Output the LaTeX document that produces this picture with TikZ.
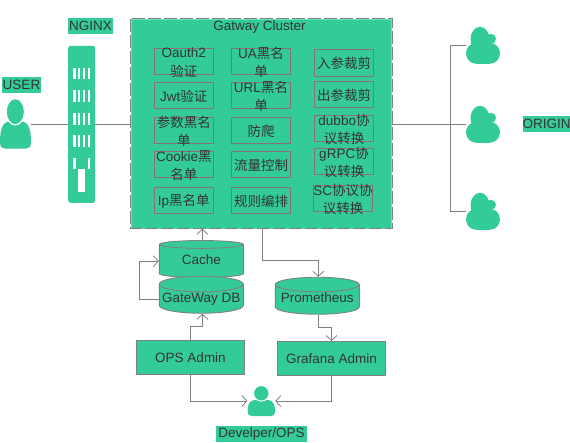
\documentclass[tikz,border=0pt]{standalone}
\usepackage{fontspec}
\setmainfont{Liberation Sans}
\newfontfamily\cjk{Noto Sans CJK SC}
\usetikzlibrary{arrows.meta,shapes.geometric}
\definecolor{gatGreen}{HTML}{33CC99}
\definecolor{gatPale}{HTML}{66E6B8}
\definecolor{gatLine}{HTML}{808080}
\definecolor{gatBox}{HTML}{8A6F80}
\definecolor{gatText}{HTML}{333333}
\tikzset{
	gatfont/.style={font=\fontsize{13.5}{18.5}\selectfont,text=gatText},
	feature/.style={draw=gatBox,line width=0.8pt,minimum width=59.5pt,minimum height=26.5pt,inner sep=0pt,
		label={[gatfont,align=center,inner sep=0pt,yshift=-1pt]center:{#1}}},
	admin/.style={draw=gatLine,fill=gatGreen,line width=0.9pt,gatfont,minimum width=108.5pt,minimum height=34pt,inner sep=0pt},
	store/.style={shape=cylinder,shape border rotate=90,shape aspect=0.2,draw=gatLine,fill=gatGreen,line width=0.9pt,gatfont,
		minimum width=84pt,minimum height=37pt,inner sep=0pt},
	tag/.style={fill=gatGreen,gatfont,inner sep=0pt,minimum height=16pt},
	link/.style={draw=gatLine,line width=0.8pt},
	arr/.style={link,->,>={Straight Barb[length=5pt,width=11pt]}},
	rack/.style={fill=gatGreen,rounded corners=2.5pt,minimum width=27pt,minimum height=157pt,inner sep=0pt,
		path picture={\begin{scope}[sharp corners,shift={(path picture bounding box.center)}]
			\foreach \y in {-56.6,-34,-11,11} {
				\foreach \x in {-8.4,-3.7,1,6} {
					\fill[white] (\x,\y) rectangle ++(2.2,11.4);
				}
			}
			\fill[white] (-8.4,34) rectangle ++(2.2,11);
			\fill[white] (6,34) rectangle ++(2.2,11);
			\fill[white] (-3.7,45) rectangle (3.6,67.4);
		\end{scope}}},
	usericon/.style={minimum width=31pt,minimum height=52pt,inner sep=0pt,
		path picture={\begin{scope}[shift={(path picture bounding box.center)}]
			\fill[gatGreen] (-15.5,18) .. controls (-15.5,5) and (-13,-1) .. (-8,-2.6) -- (8,-2.6) .. controls (13,-1) and (15.5,5) .. (15.5,18)
				.. controls (15.5,23) and (13,24.4) .. (10,24.4) -- (-10,24.4) .. controls (-13,24.4) and (-15.5,23) .. (-15.5,18) -- cycle;
			\draw[white,line width=1.2pt,fill=gatGreen] (-0.2,-12.6) ellipse (9.2 and 13.2);
		\end{scope}}},
	devicon/.style={minimum width=27.5pt,minimum height=33pt,inner sep=0pt,
		path picture={\begin{scope}[shift={(path picture bounding box.center)}]
			\fill[gatGreen] (-13.7,11) .. controls (-13.7,3) and (-12,0) .. (-7,-1) -- (7,-1) .. controls (12,0) and (13.7,3) .. (13.7,11)
				.. controls (13.7,14) and (12,15) .. (9,15) -- (-9,15) .. controls (-12,15) and (-13.7,14) .. (-13.7,11) -- cycle;
			\draw[white,line width=1pt,fill=gatGreen] (0,-7.7) circle (7.8);
		\end{scope}}},
	cloudicon/.style={minimum width=34pt,minimum height=40pt,inner sep=0pt,
		path picture={\begin{scope}[shift={(path picture bounding box.center)},yshift=1pt]
			\fill[gatGreen] (-3,-6) ellipse (9.5 and 12.5);
			\fill[gatGreen] (8,-6.5) circle (5);
			\fill[gatGreen] (-7,8) ellipse (10 and 10.4);
			\fill[gatGreen] (7,8) ellipse (10 and 10.4);
			\fill[gatGreen] (-7,4) rectangle (7,18.3);
		\end{scope}}}
}

\begin{document}
\begin{tikzpicture}[x=1pt,y=-1pt]
	\useasboundingbox (0,0) rectangle (570,442);
	% left side
	\node[tag,minimum width=39pt] (userlabel) at (21.5,84.7) {USER};
	\node[tag,minimum width=45pt] (nginxlabel) at (90.5,26.3) {NGINX};
	\node[usericon] (user) at (15.5,124.3) {};
	\node[rack] (nginx) at (81.7,124.3) {};
	% cluster
	\node[fill=gatGreen,draw=gatPale,line width=0.9pt,minimum width=260.5pt,minimum height=209pt,inner sep=0pt] (cluster) at (261.5,123.8) {};
	\draw[gatLine,line width=0.9pt,dash pattern=on 13pt off 3pt] (cluster.north west) rectangle (cluster.south east);
	\node[gatfont,inner sep=0pt] (clustertitle) at (259.5,27) {Gatway Cluster};
	\node[feature={Oauth2\\{\cjk 验证}}] (oauth) at (183.8,61.5) {};
	\node[feature={Jwt{\cjk 验证}}] (jwt) at (183.8,95.5) {};
	\node[feature={{\cjk 参数黑名}\\{\cjk 单}}] (paramblack) at (183.8,130.5) {};
	\node[feature={Cookie{\cjk 黑}\\{\cjk 名单}}] (cookie) at (183.8,164.5) {};
	\node[feature={Ip{\cjk 黑名单}}] (ipblack) at (183.8,200.5) {};
	\node[feature={UA{\cjk 黑名}\\{\cjk 单}}] (uablack) at (261,61.5) {};
	\node[feature={URL{\cjk 黑名}\\{\cjk 单}}] (urlblack) at (261,95.5) {};
	\node[feature={{\cjk 防爬}}] (crawler) at (261,130.5) {};
	\node[feature={{\cjk 流量控制}}] (flow) at (261,164.5) {};
	\node[feature={{\cjk 规则编排}}] (rules) at (261,200.5) {};
	\node[feature={{\cjk 入参裁剪}}] (incut) at (344,62.7) {};
	\node[feature={{\cjk 出参裁剪}}] (outcut) at (344,94.5) {};
	\node[feature={dubbo{\cjk 协}\\{\cjk 议转换}}] (dubbo) at (344,128.5) {};
	\node[feature={gRPC{\cjk 协}\\{\cjk 议转换}}] (grpc) at (344,161.5) {};
	\node[feature={SC{\cjk 协议协}\\{\cjk 议转换}}] (sc) at (343,198.5) {};
	% origin
	\node[cloudicon] (clouda) at (483,45.3) {};
	\node[cloudicon] (cloudb) at (483,124.3) {};
	\node[cloudicon] (cloudc) at (483,211.3) {};
	\node[tag,minimum width=46.7pt] (originlabel) at (546.6,124.3) {ORIGIN};
	\coordinate (trunk) at (450.3,124.3);
	% stores and admin
	\node[store] (cache) at (201.3,261.2) {\raisebox{3pt}{Cache}};
	\node[store] (gwdb) at (201.3,298.9) {\raisebox{3pt}{GateWay DB}};
	\node[store] (prometheus) at (317.3,299.6) {\raisebox{3pt}{Prometheus}};
	\node[admin] (ops) at (190.5,357.3) {OPS Admin};
	\node[admin] (grafana) at (331.5,358.5) {Grafana Admin};
	\node[devicon] (dev) at (261.3,401) {};
	\node[tag,minimum width=91pt] (devlabel) at (261.5,434.2) {Develper/OPS};
	% links
	\path[link] (user.east) -- (nginx.west);
	\path[link] (nginx.east) -- (nginx.east -| cluster.west);
	\path[link] (cluster.east |- trunk) -- (trunk);
	\path[link] (trunk) |- (clouda.west);
	\path[link] (trunk) -- (cloudb.west);
	\path[link] (trunk) |- (cloudc.west);
	\path[arr] ([xshift=1pt]cache.north) -- ([xshift=1pt]cache.north |- cluster.south);
	\path[arr] (gwdb.west) -- ++(-19,0) |- (cache.west);
	\path[arr] (ops.north) -- ++(0,-13) -| ([xshift=1pt]gwdb.south);
	\path[arr] ([xshift=1pt]cluster.south) -- ++(0,32) -| ([xshift=1pt]prometheus.north);
	\path[arr] ([xshift=1pt]prometheus.south) -- ++(0,13) -| (grafana.north);
	\path[arr] (ops.south) |- (dev.west);
	\path[arr] (grafana.south) |- (dev.east);
\end{tikzpicture}
\end{document}
